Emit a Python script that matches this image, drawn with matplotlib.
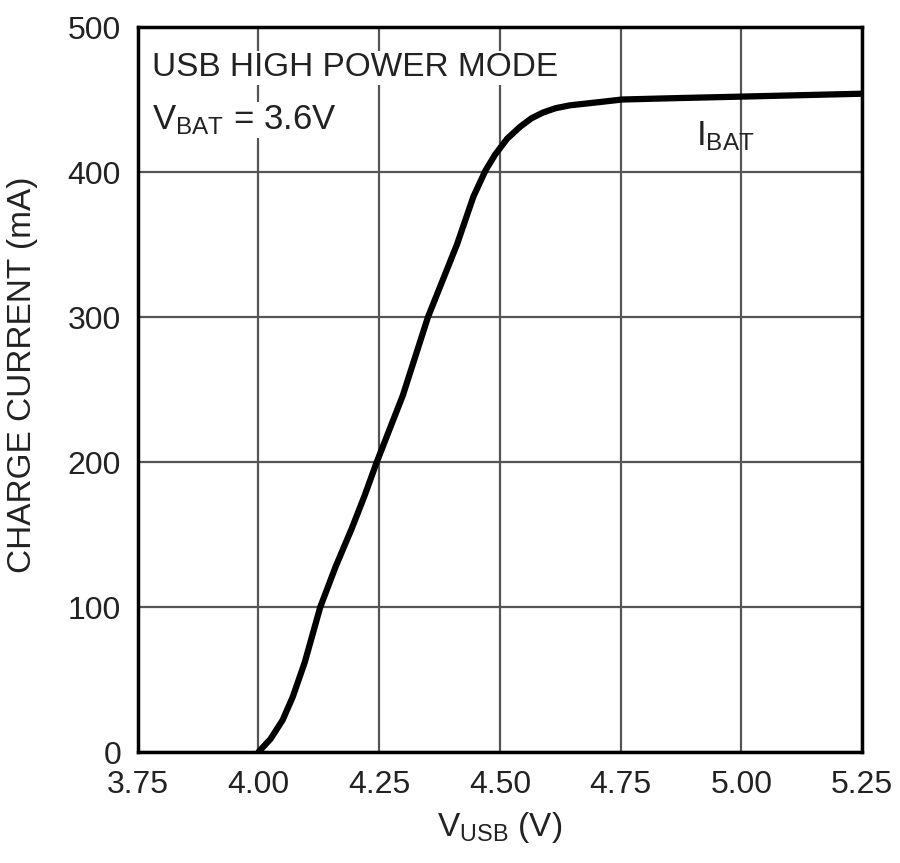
import matplotlib
matplotlib.use('Agg')
import matplotlib.pyplot as plt
import numpy as np

# charge current vs USB voltage
v_usb = [4.000, 4.025, 4.050, 4.071, 4.096, 4.128, 4.160, 4.193, 4.220, 4.245,
         4.299, 4.351, 4.411, 4.445, 4.470, 4.490, 4.515, 4.541, 4.565, 4.589,
         4.615, 4.645, 4.700, 4.753, 4.870, 5.000, 5.125, 5.250]
i_bat = [0, 9, 22, 38, 62, 100, 128, 154, 177, 200,
         246, 300, 350, 383, 401, 412, 423, 431, 437, 441,
         444, 446, 448, 450, 451, 452, 453, 454]

x_ticks = [3.75, 4.00, 4.25, 4.50, 4.75, 5.00, 5.25]
x_labels = ['3.75', '4.00', '4.25', '4.50', '4.75', '5.00', '5.25']
y_ticks = [0, 100, 200, 300, 400, 500]

plt.rcParams['font.family'] = ['Liberation Sans Narrow', 'Liberation Sans', 'DejaVu Sans']
plt.rcParams['mathtext.default'] = 'regular'

fig = plt.figure(figsize=(9, 8.63), dpi=100)
ax = fig.add_axes([0.153, 0.1286, 0.805, 0.8401])

ax.plot(v_usb, i_bat, color='black', lw=4.5, solid_capstyle='round',
        solid_joinstyle='round', zorder=3)

ax.set_xlim(3.75, 5.25)
ax.set_ylim(0, 500)
ax.set_xticks(x_ticks)
ax.set_xticklabels(x_labels)
ax.set_yticks(y_ticks)
ax.tick_params(length=0, labelsize=23, colors='#222222')
ax.tick_params(axis='x', pad=13)
ax.tick_params(axis='y', pad=12)
ax.grid(True, color='#555555', lw=1.6)
for s in ax.spines.values():
    s.set_linewidth(2.5)
    s.set_color('black')

ax.set_xlabel('$V_{USB}$ (V)', fontsize=24, color='#222222')
ax.xaxis.set_label_coords(0.5, -0.08)
ax.set_ylabel('CHARGE CURRENT (mA)', fontsize=24, color='#222222')
ax.yaxis.set_label_coords(-0.138, 0.52)

ax.text(0.02, 0.965, 'USB HIGH POWER MODE', transform=ax.transAxes,
        fontsize=24, va='top', ha='left', color='#222222',
        bbox=dict(facecolor='white', edgecolor='none', pad=1))
ax.text(0.02, 0.895, '$V_{BAT}$ = 3.6V', transform=ax.transAxes,
        fontsize=25, va='top', ha='left', color='#222222',
        bbox=dict(facecolor='white', edgecolor='none', pad=1))
ax.text(4.905, 425, '$I_{BAT}$', fontsize=25, ha='left', va='center', color='#222222')

fig.savefig('out.png', dpi=100)
